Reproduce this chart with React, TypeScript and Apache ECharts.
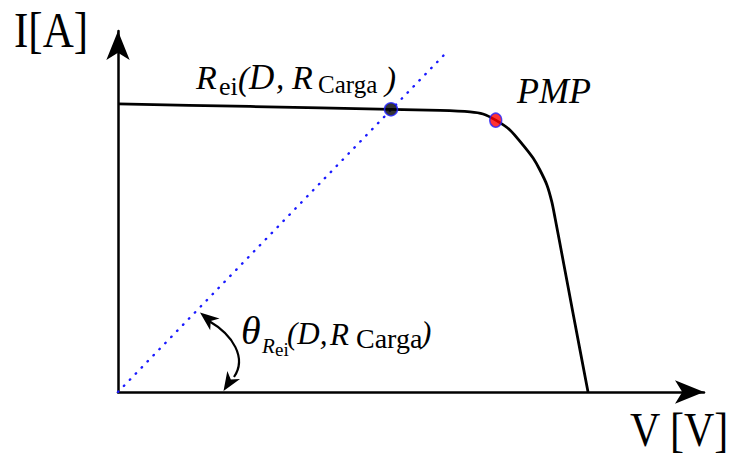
import React, { useEffect, useRef } from "react";
import * as echarts from "echarts";

// I-V characteristic of the PV module (V in volts, I in amps, arbitrary scale)
const voltage = [0, 5.41, 11.18, 13.19, 14.42, 14.95, 15.47, 16.05, 16.59, 17.0, 17.28, 17.57, 17.77, 17.9, 18.27, 18.63, 19.25];
const current = [7.98, 7.91, 7.83, 7.8, 7.76, 7.7, 7.53, 7.26, 6.84, 6.48, 6.15, 5.73, 5.26, 4.82, 3.5, 2.2, 0];

// Input-resistance load line R_ei(D, R_Carga) through the origin
const loadVoltage = [0, 13.43];
const loadCurrent = [0, 9.39];

// Operating point on the load line and maximum power point
const operatingPoint = [11.18, 7.83];
const maxPowerPoint = [15.47, 7.53];

const AXIS_MAX_V = 24;
const AXIS_MAX_I = 10;

const SERIF = "'Liberation Serif', 'Times New Roman', serif";

// text fragment placed by its left edge and alphabetic baseline
function label(text: string, x: number, baseline: number, size: number, italic = false, sy = 1) {
  return {
    type: "text",
    x,
    y: baseline - 0.3375 * size * sy,
    scaleY: sy,
    z: 20,
    style: {
      text,
      fontFamily: SERIF,
      fontSize: size,
      fontStyle: italic ? "italic" : "normal",
      fill: "#000",
      align: "left",
      verticalAlign: "middle",
    },
  };
}

// notched arrowhead polygon given tip, direction, length and width
function arrowHead(tx: number, ty: number, dx: number, dy: number, len: number, wid: number) {
  const n = Math.hypot(dx, dy);
  const ux = dx / n;
  const uy = dy / n;
  const px = -uy;
  const py = ux;
  const bx = tx - ux * len;
  const by = ty - uy * len;
  const nx = tx - ux * len * 0.72;
  const ny = ty - uy * len * 0.72;
  return {
    type: "polygon",
    z: 20,
    shape: {
      points: [
        [tx, ty],
        [bx + (px * wid) / 2, by + (py * wid) / 2],
        [nx, ny],
        [bx - (px * wid) / 2, by - (py * wid) / 2],
      ],
    },
    style: { fill: "#000" },
  };
}

export default function App() {
  const ref = useRef<HTMLDivElement>(null);

  useEffect(() => {
    if (!ref.current) return;
    const chart = echarts.init(ref.current, null, { renderer: "svg" });

    const axisCommon = {
      type: "value",
      axisLine: {
        show: true,
        symbol: ["none", "arrow"],
        symbolSize: [17.5, 29],
        lineStyle: { color: "#000", width: 2.5 },
      },
      axisTick: { show: false },
      axisLabel: { show: false },
      splitLine: { show: false },
    };

    chart.setOption({
      animation: false,
      backgroundColor: "#fff",
      grid: { left: 118, right: 28, top: 31, bottom: 66 },
      xAxis: { ...axisCommon, min: 0, max: AXIS_MAX_V },
      yAxis: { ...axisCommon, min: 0, max: AXIS_MAX_I },
      series: [
        {
          type: "line",
          data: voltage.map((v, i) => [v, current[i]]),
          showSymbol: false,
          smooth: 0.25,
          lineStyle: { color: "#000", width: 2.8 },
          z: 3,
        },
        {
          type: "line",
          data: loadVoltage.map((v, i) => [v, loadCurrent[i]]),
          showSymbol: false,
          lineStyle: { color: "#1a1aff", width: 2.4, type: [0.5, 8], cap: "round" },
          z: 2,
        },
        {
          type: "scatter",
          data: [operatingPoint],
          symbol: "circle",
          symbolSize: 13,
          itemStyle: { color: "#000", borderColor: "#2424ff", borderWidth: 1.5 },
          z: 5,
        },
        {
          type: "scatter",
          data: [maxPowerPoint],
          symbol: "circle",
          symbolSize: [12, 14],
          itemStyle: { color: "#ff0000", borderColor: "#2424ff", borderWidth: 1.5 },
          z: 5,
        },
      ],
      graphic: [
        // axis titles
        label("I[A]", 14, 47, 43, false, 1.16),
        label("V [V]", 630, 446, 42, false, 1.14),
        // load-line label
        label("R", 196, 89, 34, true),
        label("ei", 219, 95, 26),
        label("(", 238, 90, 33, true),
        label("D", 249, 89, 35, true),
        label(",", 276, 89, 33, true),
        label("R", 292, 89, 34, true),
        label("Carga", 318, 93, 25),
        label(")", 385, 90, 33, true),
        // maximum power point
        label("PMP", 517, 103, 36, true),
        // angle label
        label("θ", 241, 344, 40, true),
        label("R", 262, 353, 21, true),
        label("ei", 275, 356, 19),
        label("(D,", 287, 344, 31, true),
        label("R", 330, 345, 31, true),
        label("Carga", 356, 348, 28),
        label(")", 421, 343, 31, true),
        // angle arc with arrowheads at both ends
        {
          type: "bezierCurve",
          z: 20,
          shape: { x1: 209, y1: 321, cpx1: 233, cpy1: 335, cpx2: 247, cpy2: 358, x2: 234, y2: 377 },
          style: { stroke: "#000", lineWidth: 2.2, fill: "none" },
        },
        arrowHead(200, 312.5, -0.78, -0.62, 19, 15),
        arrowHead(223.5, 391, -0.535, 0.845, 19, 15),
      ],
    });

    return () => chart.dispose();
  }, []);

  return (
    <div
      ref={ref}
      style={{ position: "fixed", left: 0, top: 0, width: 732, height: 458, background: "#fff" }}
    />
  );
}
